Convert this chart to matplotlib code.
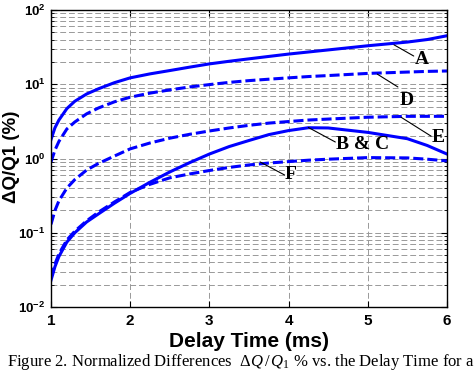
import matplotlib
matplotlib.use("Agg")
from matplotlib import pyplot as plt
from matplotlib.ticker import FixedLocator, LogLocator, NullFormatter

plt.rcParams["mathtext.fontset"] = "custom"
plt.rcParams["mathtext.rm"] = "Liberation Serif"
plt.rcParams["mathtext.it"] = "Liberation Serif:italic"
plt.rcParams["mathtext.bf"] = "Liberation Sans:bold"

# values (delay time in ms, dQ/Q1 in %)
delay_time = [1.0, 1.05, 1.1, 1.2, 1.3, 1.45, 1.6, 1.8, 2.0, 2.25, 2.5, 2.75,
              3.0, 3.25, 3.5, 3.75, 4.0, 4.25, 4.5, 5.0, 5.5, 5.75, 6.0]
curve_a = [1.8, 2.6, 3.3, 4.7, 5.9, 7.4, 8.7, 10.5, 12.2, 13.8, 15.3, 17.0,
           18.8, 20.4, 22.0, 23.7, 25.5, 27.2, 29.0, 33.0, 37.0, 40.0, 45.0]
curve_d = [0.9, 1.3, 1.7, 2.5, 3.1, 4.0, 4.8, 5.8, 6.7, 7.6, 8.4, 9.2,
           9.9, 10.6, 11.2, 11.7, 12.2, 12.7, 13.1, 14.0, 14.6, 14.9, 15.1]
curve_e = [0.13, 0.2, 0.27, 0.4, 0.52, 0.7, 0.86, 1.08, 1.35, 1.62, 1.88, 2.12,
           2.35, 2.58, 2.8, 3.0, 3.15, 3.3, 3.4, 3.6, 3.7, 3.7, 3.7]
curve_bc = [0.023, 0.035, 0.048, 0.075, 0.1, 0.14, 0.18, 0.25, 0.34, 0.48, 0.66, 0.88,
            1.15, 1.45, 1.75, 2.1, 2.38, 2.6, 2.58, 2.25, 1.85, 1.5, 1.15]
curve_f = [0.025, 0.038, 0.052, 0.08, 0.105, 0.145, 0.19, 0.26, 0.35, 0.45, 0.55, 0.62,
           0.69, 0.76, 0.82, 0.87, 0.91, 0.95, 0.98, 1.03, 1.02, 0.98, 0.93]

x_ticks = [1, 2, 3, 4, 5, 6]
y_ticks = [1e-2, 1e-1, 1e0, 1e1, 1e2]
y_tick_labels = [r"$\mathbf{10^{-2}}$", r"$\mathbf{10^{-1}}$", r"$\mathbf{10^{0}}$",
                 r"$\mathbf{10^{1}}$", r"$\mathbf{10^{2}}$"]

# label text, leader start (on curve), leader end, text position
labels = [
    ("A", (5.33, 34.0), (5.58, 24.0), (5.68, 21.5)),
    ("D", (5.12, 13.7), (5.38, 9.2), (5.49, 6.1)),
    ("E", (5.42, 3.6), (5.80, 2.0), (5.89, 1.9)),
    ("B & C", (4.25, 2.62), (4.59, 1.67), (4.94, 1.55)),
    ("F", (3.64, 0.90), (3.95, 0.60), (4.03, 0.61)),
]

fig = plt.figure(figsize=(4.74, 3.70), dpi=100)
ax = fig.add_axes([0.1076, 0.170, 0.8354, 0.803])

blue = "#0000ff"
dash = (3.3, 1.3)
ax.plot(delay_time, curve_a, color=blue, lw=2.2)
ax.plot(delay_time, curve_d, color=blue, lw=2.2, dashes=dash)
ax.plot(delay_time, curve_e, color=blue, lw=2.2, dashes=dash)
ax.plot(delay_time, curve_bc, color=blue, lw=2.2)
ax.plot(delay_time, curve_f, color=blue, lw=2.2, dashes=dash)

ax.set_yscale("log")
ax.set_xlim(1, 6)
ax.set_ylim(1e-2, 1e2)
ax.xaxis.set_major_locator(FixedLocator(x_ticks))
ax.set_xticklabels([str(t) for t in x_ticks])
ax.yaxis.set_major_locator(FixedLocator(y_ticks))
ax.set_yticklabels(y_tick_labels)
ax.yaxis.set_minor_locator(LogLocator(base=10, subs=range(2, 10)))
ax.yaxis.set_minor_formatter(NullFormatter())

for lab in ax.get_xticklabels():
    lab.set_fontweight("bold")
    lab.set_family("Liberation Sans")
ax.tick_params(axis="both", which="both", direction="in", top=True, right=True)
ax.tick_params(axis="x", labelsize=11, pad=5)
ax.tick_params(axis="y", labelsize=9.5, pad=4)
ax.tick_params(axis="both", which="major", length=4, width=0.8)
ax.tick_params(axis="y", which="minor", length=2.5, width=0.6)

ax.grid(True, which="major", axis="both", color="#999999", ls=(0, (6, 3)), lw=0.7)
ax.grid(True, which="minor", axis="y", color="#999999", ls=(0, (6, 3)), lw=0.7)
for s in ax.spines.values():
    s.set_linewidth(1.0)
    s.set_color("black")

for text, start, end, pos in labels:
    ax.annotate("", xy=start, xytext=end,
                arrowprops=dict(arrowstyle="-", lw=0.8, color="black", shrinkA=0, shrinkB=0))
    ax.text(pos[0], pos[1], text, family="Liberation Serif", fontweight="bold",
            fontsize=14, ha="center", va="center")

ax.set_xlabel("Delay Time (ms)", family="Liberation Sans", fontweight="bold",
              fontsize=15, labelpad=3)
fig.text(12 / 474, 1 - 157 / 370, "ΔQ/Q1 (%)", family="Liberation Sans",
         fontweight="bold", fontsize=13.5, rotation=90, ha="center", va="center")

fig.text(7 / 474, 4 / 370,
         r"Figure 2. Normalized Differences  $\Delta Q\,/\,Q_1$ % vs. the Delay Time for a",
         family="Liberation Serif", fontsize=12, ha="left", va="baseline")

fig.savefig("out.png", dpi=100)
